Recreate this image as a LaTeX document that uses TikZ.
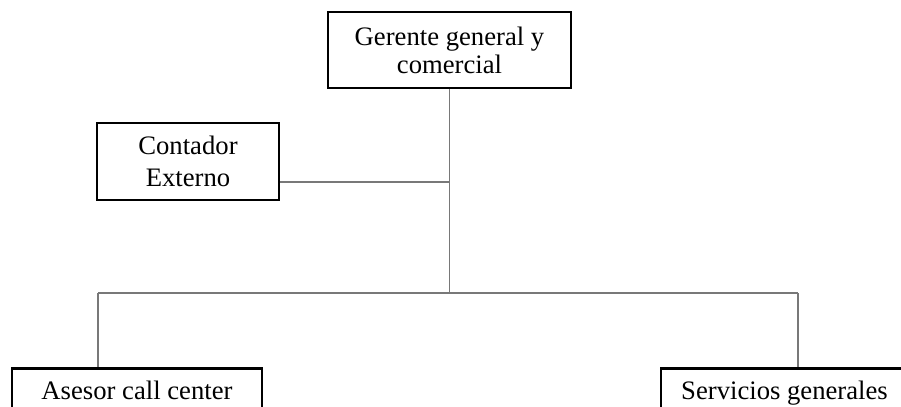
\documentclass[tikz,border=0pt]{standalone}
\usepackage{fontspec}
\setmainfont{Liberation Serif}
\usepackage{tikz}
\usetikzlibrary{positioning, calc}
\definecolor{linegray}{RGB}{120,120,120}

\begin{document}
\begin{tikzpicture}[
  x=0.75pt, y=-0.75pt,
  unit/.style={rectangle, draw=black, line width=1.9pt,
    align=center, font=\fontsize{20}{21}\selectfont},
  link/.style={draw=linegray, line width=0.8pt}
]
\path[use as bounding box, clip] (0,0) rectangle (901,407);

% Top level
\node[unit, minimum width=182pt, minimum height=57pt] (gerente) at (449.5,50)
  {Gerente general y\\comercial};

% Staff position
\node[unit, minimum width=136.5pt, minimum height=57.75pt,
      font=\fontsize{20}{24}\selectfont] (contador) at (188,161.5)
  {Contador\\Externo};

% Lower level (cut by the page edge)
\node[unit, anchor=north, minimum width=187.5pt, text height=14pt, text depth=5pt,
      inner ysep=9.75pt] (asesor) at (137,367) {Asesor call center};
\node[unit, anchor=north, minimum width=185pt, text height=14pt, text depth=5pt,
      inner ysep=9.75pt] (servicios) at (784.5,367) {Servicios generales};

% Connectors
\coordinate (cj) at (gerente.south |- 0,182);
\coordinate (bar) at (gerente.south |- 0,293);
\coordinate (dropA) at (98,293);
\coordinate (dropB) at (798,293);

\draw[link] (gerente.south) -- (bar);
\draw[link] (contador.east |- cj) -- (cj);
\draw[link] (dropA) -- (dropB);
\draw[link] (dropA) -- (dropA |- asesor.north);
\draw[link] (dropB) -- (dropB |- servicios.north);
\end{tikzpicture}
\end{document}
